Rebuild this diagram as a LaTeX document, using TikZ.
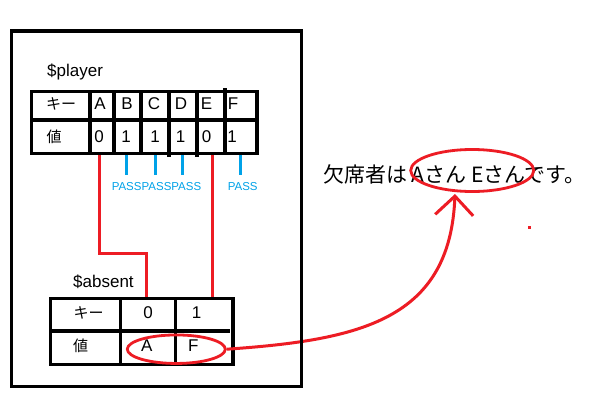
\documentclass[tikz,border=0pt]{standalone}
\usepackage{fontspec}
\setmainfont{Liberation Sans}
\newfontfamily\jp{Noto Sans CJK JP}
\usetikzlibrary{arrows.meta,shapes.geometric}
\definecolor{pred}{HTML}{ED1C24}
\definecolor{pblue}{HTML}{00A2E8}
\begin{document}
\begin{tikzpicture}[x=1pt,y=-1pt,
  frame/.style={line width=3.2pt, draw=black},
  cell/.style={inner sep=0pt, font=\fontsize{17}{17}\selectfont},
  jcell/.style={inner sep=0pt, font=\jp\fontsize{15}{15}\selectfont},
  title/.style={inner sep=0pt, anchor=base west, font=\fontsize{17}{17}\selectfont},
  redline/.style={draw=pred, line width=3pt},
  blueline/.style={draw=pblue, line width=2.8pt},
  passlbl/.style={text=pblue, inner sep=0pt, font=\fontsize{11.5}{11.5}\selectfont},
  redoval/.style={draw=pred, line width=2.8pt, ellipse, inner sep=0pt},
]
\useasboundingbox[fill=white] (0,0) rectangle (594,420);

% titles
\node[title] (plabel) at (47,77) {\$player};
\node[title] (alabel) at (73,287.3) {\$absent};

% red connectors from $player to $absent
\coordinate (pAbot) at (99.3,154);
\coordinate (bendA1) at (99.3,253.3);
\coordinate (bendA2) at (146.7,253.3);
\coordinate (a0top) at (146.7,299);
\coordinate (pEbot) at (212.7,154);
\coordinate (a1top) at (212.7,299);
\draw[redline] (pAbot) -- (bendA1) -- (bendA2) -- (a0top);
\draw[redline] (pEbot) -- (a1top);

% blue PASS ticks
\foreach \x/\n in {126.3/b, 155.3/c, 182.3/d, 240.3/f}{
  \coordinate (bt\n) at (\x,154);
  \coordinate (bb\n) at (\x,175);
  \draw[blueline] (bt\n) -- (bb\n);
}
\node[passlbl] (pass1) at (156.5,186.2) {PASSPASSPASS};
\node[passlbl] (pass2) at (242.7,186.2) {PASS};

% $player table
\draw[frame] (31.3,91.3) rectangle (257,153.3);
\draw[frame] (31.3,120) -- (257,120);
\draw[frame] (90,91.3) -- (90,153.3);
\draw[frame] (114,91.3) -- (114,153.3);
\draw[frame] (141,91.3) -- (141,153.3);
\draw[frame] (169,91.3) -- (169,157);
\draw[frame] (197,91.3) -- (197,157);
\draw[frame] (225,88) -- (225,153.3);

\node[jcell] (pkey) at (61,104) {キー};
\node[jcell] (pval) at (54,137) {値};
\node[cell] (kA) at (100,104) {A};
\node[cell] (kB) at (127,104) {B};
\node[cell] (kC) at (154,104) {C};
\node[cell] (kD) at (181,104) {D};
\node[cell] (kE) at (206.5,104) {E};
\node[cell] (kF) at (233,104) {F};
\node[cell] (vA) at (99,137) {0};
\node[cell] (vB) at (126,137) {1};
\node[cell] (vC) at (155,137) {1};
\node[cell] (vD) at (180.5,137) {1};
\node[cell] (vE) at (206.5,137) {0};
\node[cell] (vF) at (232,137) {1};

% $absent table
\draw[frame] (50.7,298.7) rectangle (233,364.3);
\draw[frame] (50.7,331) -- (230,331);
\draw[frame] (120.7,298.7) -- (120.7,364.3);
\draw[frame] (175.7,298.7) -- (175.7,364.3);

\node[jcell] (akey) at (88.7,313) {キー};
\node[cell] (a0) at (148,313) {0};
\node[cell] (a1) at (196.7,313) {1};
\node[jcell] (aval) at (80.7,346) {値};
\node[cell] (aA) at (146.7,346) {A};
\node[cell] (aF) at (193.3,346) {F};

\node[redoval, minimum width=98pt, minimum height=28.5pt] (ovalAF) at (176.3,349.2) {};

% message
\node[inner sep=0pt, anchor=west, font=\jp\fontsize{21}{21}\selectfont] (msg) at (323,174) {欠席者は Aさん Eさんです。};
\node[redoval, minimum width=123pt, minimum height=42pt] (ovalmsg) at (472.2,170.5) {};

% curved arrow
\coordinate (tip) at (455,194);
\draw[redline, -{Straight Barb[length=19pt,width=38pt]}] (ovalAF.east) .. controls (360,340) and (450,320) .. (tip);

% red dot
\fill[pred] (528,226) rectangle (531,229);

% outer frame
\draw[frame] (11.3,31) rectangle (301.7,386.7);
\end{tikzpicture}
\end{document}
